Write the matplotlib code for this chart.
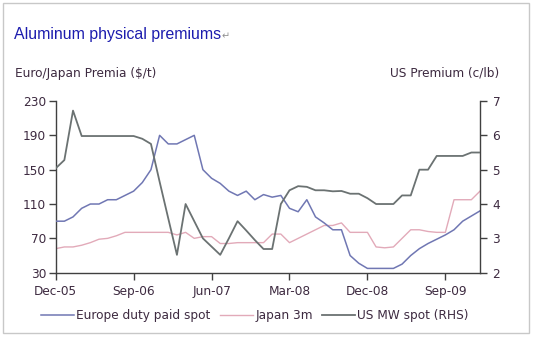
import matplotlib
matplotlib.use("Agg")
import matplotlib.pyplot as plt
from matplotlib.patches import Rectangle
from matplotlib.lines import Line2D

# ---- data (monthly, Dec-05 .. Jan-10) ----
europe = [90, 90, 95, 105, 110, 110, 115, 115, 120, 125,
          135, 150, 190, 180, 180, 185, 190, 150, 140, 134,
          125, 120, 125, 115, 121, 118, 120, 105, 101, 115,
          95, 88, 80, 80, 50, 41, 35, 35, 35, 35,
          40, 50, 58, 64, 69, 74, 80, 90, 96, 102]
japan = [58, 60, 60, 62, 65, 69, 70, 73, 77, 77,
         77, 77, 77, 77, 74, 77, 70, 72, 72, 64,
         64, 65, 65, 65, 65, 75, 75, 65, 70, 75,
         80, 85, 85, 88, 77, 77, 77, 60, 59, 60,
         70, 80, 80, 78, 77, 77, 115, 115, 115, 125]
us_mw = [5.04, 5.28, 6.72, 5.98, 5.98, 5.98, 5.98, 5.98, 5.98, 5.98,
         5.9, 5.75, 4.65, 3.58, 2.52, 4.0, 3.5, 3.0, 2.76, 2.52,
         3.0, 3.5, 3.23, 2.95, 2.69, 2.69, 4.0, 4.4, 4.52, 4.5,
         4.4, 4.4, 4.37, 4.38, 4.3, 4.3, 4.17, 4.0, 4.0, 4.0,
         4.25, 4.25, 5.0, 5.0, 5.4, 5.4, 5.4, 5.4, 5.5, 5.5]
tick_pos = [0, 9, 18, 27, 36, 45]
tick_labels = ["Dec-05", "Sep-06", "Jun-07", "Mar-08", "Dec-08", "Sep-09"]
left_ticks = [30, 70, 110, 150, 190, 230]
right_ticks = [2, 3, 4, 5, 6, 7]
series_names = ["Europe duty paid spot", "Japan 3m", "US MW spot (RHS)"]

W, H = 533, 338
fig = plt.figure(figsize=(W / 100, H / 100), dpi=100)
fig.patch.set_facecolor("white")

txt = "#3d2a40"
spine_c = "#404040"
c_eu = "#7077b3"
c_jp = "#e2aab9"
c_us = "#6b7272"

# outer frame
fig.patches.append(Rectangle((3 / W, 1 - 333 / H), 526 / W, 330 / H,
                             transform=fig.transFigure, fill=False,
                             edgecolor="#c8c8c8", linewidth=1.0))

x = list(range(len(europe)))
ax = fig.add_axes([55.7 / W, 1 - 272.7 / H, (480 - 55.7) / W, (272.7 - 101) / H])
ax2 = ax.twinx()

ax.plot(x, europe, color=c_eu, lw=1.1, zorder=3)
ax.plot(x, japan, color=c_jp, lw=1.0, zorder=2)
ax2.plot(x, us_mw, color=c_us, lw=1.3, zorder=3)

ax.set_xlim(0, len(europe) - 1)
ax.set_ylim(30, 230)
ax2.set_ylim(2, 7)
ax.set_yticks(left_ticks)
ax2.set_yticks(right_ticks)
ax.set_xticks(tick_pos)
ax.set_xticklabels(tick_labels)

for a in (ax, ax2):
    a.set_facecolor("none")
    a.spines["top"].set_visible(False)
    for s in ("left", "right", "bottom"):
        a.spines[s].set_color(spine_c)
        a.spines[s].set_linewidth(1.0)
    a.tick_params(colors=spine_c, labelcolor=txt, labelsize=8.7,
                  length=5, width=1.0, direction="out", pad=2)
ax.spines["right"].set_visible(False)
ax2.spines["left"].set_visible(False)
ax2.spines["bottom"].set_visible(False)
ax.tick_params(axis="x", pad=4)
ax2.tick_params(axis="y", pad=4)

# title and axis captions
fig.text(14 / W, 1 - 34 / H, "Aluminum physical premiums", color="#1c1cae",
         fontsize=11.4, family=["Liberation Sans", "DejaVu Sans"], va="center", ha="left")
fig.text(222 / W, 1 - 36 / H, "\u21b5", color="#909090", fontsize=7,
         family=["DejaVu Sans"], va="center", ha="left")
fig.text(15 / W, 1 - 73 / H, "Euro/Japan Premia ($/t)", color=txt, fontsize=8.7,
         va="center", ha="left")
fig.text(499 / W, 1 - 73 / H, "US Premium (c/lb)", color=txt, fontsize=8.7,
         va="center", ha="right")

handles = [Line2D([], [], color=c_eu, lw=1.1),
           Line2D([], [], color=c_jp, lw=1.0),
           Line2D([], [], color=c_us, lw=1.3)]
leg = fig.legend(handles, series_names, loc="center", ncol=3,
                 bbox_to_anchor=(255 / W, 1 - 316 / H), frameon=False,
                 fontsize=8.7, handlelength=2.7, handletextpad=0.2,
                 columnspacing=0.8, borderpad=0)
for t in leg.get_texts():
    t.set_color(txt)

fig.savefig("out.png", dpi=100)
